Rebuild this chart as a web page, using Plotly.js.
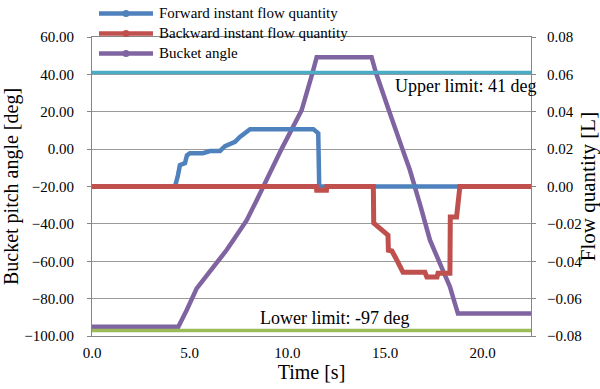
<!DOCTYPE html>
<html>
<head>
<meta charset="utf-8">
<script src="https://cdn.plot.ly/plotly-3.0.1.min.js"></script>
<style>html,body{margin:0;padding:0;background:#fff;}#chart{width:600px;height:389px;}</style>
</head>
<body>
<div id="chart"></div>
<script>
// Forward instant flow quantity [L] (right axis)
var fwdTime = [0, 4.25, 4.4, 4.5, 4.76, 4.86, 5.01, 5.68, 6.04, 6.55, 6.81, 7.06, 7.32, 7.57, 7.83, 8.09, 11.33, 11.58, 11.63, 22.47];
var fwdFlow = [0, 0, 0.006, 0.0114, 0.0125, 0.0167, 0.0178, 0.0178, 0.019, 0.019, 0.0216, 0.0226, 0.0239, 0.0265, 0.0285, 0.0307, 0.0307, 0.0285, 0, 0];

// Backward instant flow quantity [L] (right axis)
var bwdTime = [0, 11.48, 11.5, 12.0, 12.02, 14.4, 14.42, 14.64, 14.84, 15.15, 15.17, 15.35, 15.61, 15.63, 15.92, 17.04, 17.14, 17.66, 17.71, 18.22, 18.32, 18.34, 18.66, 18.83, 22.47];
var bwdFlow = [0, 0, -0.002, -0.002, 0, 0, -0.0196, -0.0218, -0.0234, -0.026, -0.0341, -0.0345, -0.0395, -0.04, -0.0459, -0.0459, -0.0484, -0.0484, -0.0464, -0.0464, -0.0464, -0.0163, -0.0163, 0, 0];

// Bucket angle [deg] (left axis)
var angTime = [0, 4.42, 4.85, 5.1, 5.36, 5.7, 6.04, 6.38, 6.89, 7.23, 7.57, 7.92, 8.43, 8.76, 9.7, 10.73, 11.05, 11.29, 11.5, 14.31, 14.53, 14.83, 15.22, 15.89, 16.27, 16.8, 17.3, 17.8, 18.32, 18.5, 18.73, 22.47];
var angDeg  = [-95, -95, -86.1, -79.8, -74.5, -70, -65.6, -61.1, -54, -48.7, -43.3, -38, -27.3, -20, 0, 20.8, 31.5, 41, 49.2, 49.2, 41, 31.5, 20, 0, -11.2, -30, -48.7, -61, -73.6, -80, -88, -88];

// Limits [deg]
var limitTime = [0, 22.47];
var upperLimit = 41;
var lowerLimit = -97;

var seriesNames = ["Forward instant flow quantity", "Backward instant flow quantity", "Bucket angle"];
var seriesColors = ['#4F81BD', '#C0504D', '#8064A2'];

var serif = "'Liberation Serif', 'Times New Roman', serif";

var traces = [
  {x: fwdTime, y: fwdFlow, yaxis: 'y2', type: 'scatter', mode: 'lines', name: seriesNames[0],
   line: {color: seriesColors[0], width: 4.5}},
  {x: bwdTime, y: bwdFlow, yaxis: 'y2', type: 'scatter', mode: 'lines', name: seriesNames[1],
   line: {color: seriesColors[1], width: 5}},
  {x: angTime, y: angDeg, yaxis: 'y', type: 'scatter', mode: 'lines', name: seriesNames[2],
   line: {color: seriesColors[2], width: 4.5}},
  {x: limitTime, y: [upperLimit, upperLimit], yaxis: 'y', type: 'scatter', mode: 'lines',
   line: {color: '#4BACC6', width: 3.5}},
  {x: limitTime, y: [lowerLimit, lowerLimit], yaxis: 'y', type: 'scatter', mode: 'lines',
   line: {color: '#9BBB59', width: 3.5}}
];

// Legend drawn in paper coordinates (plot area: 92..531 px horizontally, 37..336 px vertically)
function px2x(p) { return (p - 92) / 439; }
function py2y(p) { return (336 - p) / 299; }
var legendRowsPx = [13.5, 33.5, 53.5];
var shapes = [];
var annotations = [];
for (var i = 0; i < seriesNames.length; i++) {
  var yy = py2y(legendRowsPx[i]);
  shapes.push({type: 'line', xref: 'paper', yref: 'paper', x0: px2x(99), x1: px2x(153), y0: yy, y1: yy,
               line: {color: seriesColors[i], width: 4.5}, layer: 'above'});
  shapes.push({type: 'circle', xref: 'paper', yref: 'paper', xsizemode: 'pixel', ysizemode: 'pixel',
               xanchor: px2x(126), yanchor: yy, x0: -3.5, x1: 3.5, y0: -3.5, y1: 3.5,
               fillcolor: seriesColors[i], line: {width: 0}, layer: 'above'});
  annotations.push({x: px2x(157), y: yy, xref: 'paper', yref: 'paper', text: seriesNames[i], showarrow: false,
                    xanchor: 'left', yanchor: 'middle', font: {family: serif, size: 15, color: '#000'}});
}
annotations.push({x: 15.4, y: 33.6, xref: 'x', yref: 'y', text: 'Upper limit: 41 deg', showarrow: false,
                  xanchor: 'left', yanchor: 'middle', font: {family: serif, size: 18, color: '#000'}});
annotations.push({x: 8.5, y: -90.3, xref: 'x', yref: 'y', text: 'Lower limit: -97 deg', showarrow: false,
                  xanchor: 'left', yanchor: 'middle', font: {family: serif, size: 18, color: '#000'}});

var layout = {
  width: 600, height: 389,
  margin: {l: 92, r: 69, t: 37, b: 53},
  paper_bgcolor: '#fff', plot_bgcolor: '#fff',
  font: {family: serif, size: 15, color: '#000'},
  showlegend: false,
  xaxis: {range: [0, 22.47], tickvals: [0, 5, 10, 15, 20], ticktext: ['0.0', '5.0', '10.0', '15.0', '20.0'],
          showgrid: false, zeroline: false, showline: true, mirror: true, linecolor: '#868686', linewidth: 1,
          ticks: 'outside', ticklen: 3, tickcolor: 'rgba(0,0,0,0)',
          tickfont: {family: serif, size: 15, color: '#000'},
          title: {text: 'Time [s]', font: {family: serif, size: 20, color: '#000'}, standoff: 2}},
  yaxis: {range: [-100, 60], dtick: 20, tickformat: '.2f', showgrid: true, gridcolor: '#9a9a9a', gridwidth: 1,
          zeroline: false, showline: true, linecolor: '#868686', linewidth: 1,
          ticks: 'outside', ticklen: 4, tickcolor: '#868686', ticklabelstandoff: 10,
          tickfont: {family: serif, size: 15, color: '#000'},
          title: {text: 'Bucket pitch angle [deg]', font: {family: serif, size: 20, color: '#000'}, standoff: 8}},
  yaxis2: {range: [-0.08, 0.08], dtick: 0.02, tickformat: '.2f', overlaying: 'y', side: 'right',
           showgrid: false, zeroline: false, showline: true, linecolor: '#868686', linewidth: 1,
           ticks: 'outside', ticklen: 4, tickcolor: '#868686', ticklabelstandoff: 8,
           tickfont: {family: serif, size: 15, color: '#000'},
           title: {text: 'Flow quantity [L]', font: {family: serif, size: 21, color: '#000'}, standoff: 4}},
  shapes: shapes,
  annotations: annotations
};

Plotly.newPlot('chart', traces, layout, {displayModeBar: false, staticPlot: true});
</script>
</body>
</html>
